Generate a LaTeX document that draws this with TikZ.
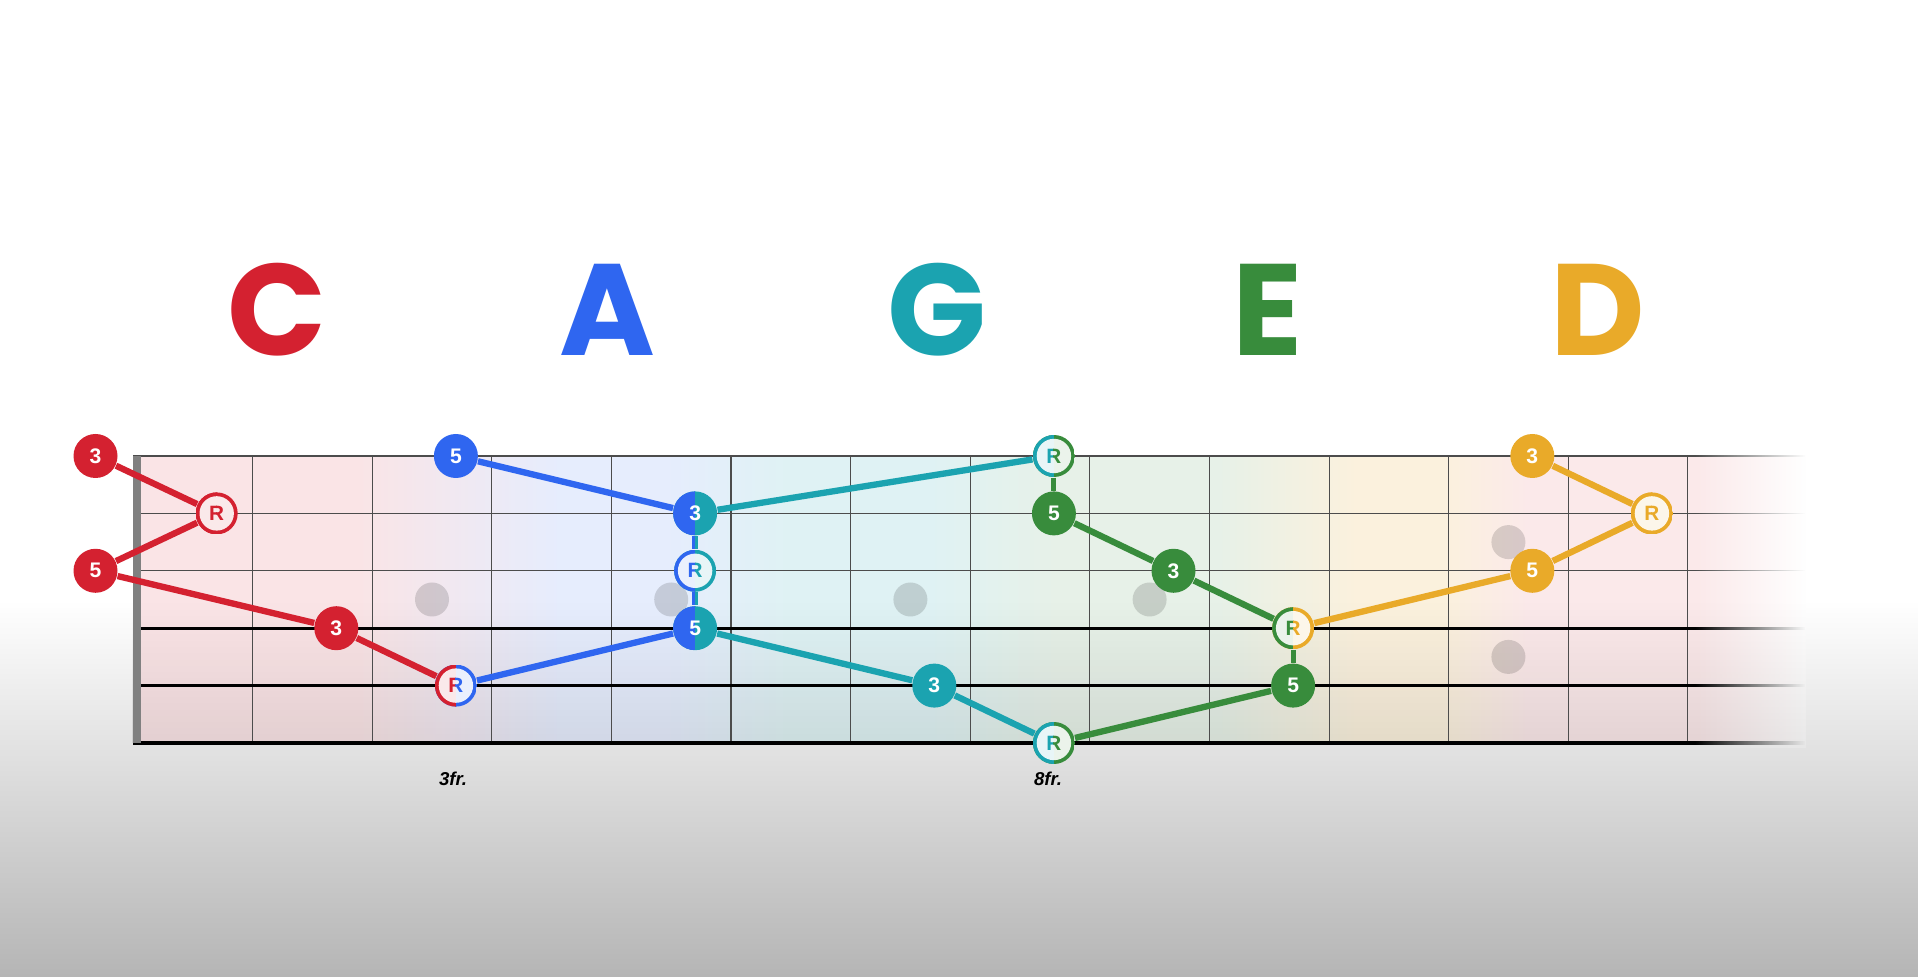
\documentclass[tikz,border=0pt]{standalone}
\usepackage{fontspec}
\setmainfont{Liberation Sans}
\newfontfamily\titlefont{Poppins}
\usetikzlibrary{fadings}
\definecolor{shapeC}{RGB}{212,33,48}
\definecolor{shapeA}{RGB}{47,102,240}
\definecolor{shapeG}{RGB}{27,163,176}
\definecolor{shapeE}{RGB}{56,140,60}
\definecolor{shapeD}{RGB}{233,170,41}

\begin{document}
\begin{tikzpicture}[
  shapename/.style={font=\titlefont\bfseries\fontsize{37}{37}\selectfont,anchor=base,text=#1},
  notedot/.style={circle,fill=#1,text=white,minimum size=0.44cm,inner sep=0pt,
    font=\bfseries\fontsize{6}{6}\selectfont},
  halfdot/.style 2 args={notedot=#2,path picture={
    \fill[#1] (path picture bounding box.south west) rectangle (path picture bounding box.north);}},
  rlabel/.style={inner sep=0pt,font=\bfseries\fontsize{5.9}{5.9}\selectfont},
  rootring/.style 2 args={circle,minimum size=0.42cm,inner sep=0pt,path picture={
    \fill[#2] (path picture bounding box.south west) rectangle (path picture bounding box.north east);
    \fill[#1] (path picture bounding box.south west) rectangle (path picture bounding box.north);
    \fill[white,fill opacity=0.9] (path picture bounding box.center) circle (0.172);
    \begin{scope}
      \clip (path picture bounding box.south west) rectangle (path picture bounding box.north);
      \node[rlabel,text=#1] at (path picture bounding box.center) {R};
    \end{scope}
    \begin{scope}
      \clip (path picture bounding box.south) rectangle (path picture bounding box.north east);
      \node[rlabel,text=#2] at (path picture bounding box.center) {R};
    \end{scope}}},
  shapelink/.style={line width=1.8pt,#1},
  fretlabel/.style={font=\bfseries\itshape\fontsize{5.3}{5.3}\selectfont}]
\useasboundingbox (0,0) rectangle (19.18,9.76);
\fill[white] (0,0) rectangle (19.18,9.76);
\shade[top color=white,middle color=black!11,bottom color=black!29] (0,0) rectangle (19.18,3.76);

% fretboard
\foreach \xa/\xb/\ca/\cb in {1.33/3.6/shapeC!12/shapeC!12, 3.6/5.6/shapeC!12/shapeA!12,
    5.6/6.6/shapeA!12/shapeA!12, 6.6/7.9/shapeA!12/shapeG!14, 7.9/9.3/shapeG!14/shapeG!14,
    9.3/10.6/shapeG!14/shapeE!12, 10.6/12.2/shapeE!12/shapeE!12, 12.2/13.6/shapeE!12/shapeD!16,
    13.6/14.4/shapeD!16/shapeD!16, 14.4/15.3/shapeD!16/shapeC!10, 15.3/18.05/shapeC!10/shapeC!10}
  \shade[left color=\ca,right color=\cb] (\xa,2.33) rectangle (\xb,5.20);
\fill[black,fill opacity=0.09,path fading=north] (1.33,2.33) rectangle (18.05,3.76);
\foreach \ix/\iy in {4.32/3.765, 6.712/3.765, 9.104/3.765, 11.496/3.765, 15.084/4.339, 15.084/3.191}
  \fill[black,fill opacity=0.14] (\ix,\iy) circle (0.17);
\foreach \k in {1,...,13}
  \draw[black!70,line width=0.3pt] ({1.33+1.196*\k},2.33) -- ({1.33+1.196*\k},5.20);
\foreach \sy in {5.20,4.626,4.052}
  \draw[black!70,line width=0.4pt] (1.33,\sy) -- (18.05,\sy);
\foreach \sy in {3.478,2.904}
  \draw[black,line width=0.75pt] (1.33,\sy) -- (18.05,\sy);
\draw[black,line width=1.1pt] (1.33,2.33) -- (18.05,2.33);
\fill[black!50] (1.33,2.33) rectangle (1.41,5.20);
\fill[white,path fading=west] (16.95,3.76) rectangle (18.06,5.35);
\shade[top color=white,bottom color=black!9,path fading=west] (16.95,2.285) rectangle (18.06,3.76);

\node[shapename=shapeC] (tC) at (2.77,6.20) {C};
\node[shapename=shapeA] (tA) at (6.07,6.20) {A};
\node[shapename=shapeG] (tG) at (9.37,6.20) {G};
\node[shapename=shapeE] (tE) at (12.68,6.20) {E};
\node[shapename=shapeD] (tD) at (15.98,6.20) {D};

\node[notedot=shapeC] (c3) at (0.955,5.20) {3};
\node[rootring={shapeC}{shapeC}] (cR1) at (2.167,4.626) {};
\node[notedot=shapeC] (c5) at (0.955,4.052) {5};
\node[notedot=shapeC] (c3b) at (3.363,3.478) {3};
\node[rootring={shapeC}{shapeA}] (cR) at (4.559,2.904) {};
\node[notedot=shapeA] (a5) at (4.559,5.20) {5};
\node[halfdot={shapeA}{shapeG}] (a3) at (6.951,4.626) {3};
\node[rootring={shapeA}{shapeG}] (aR) at (6.951,4.052) {};
\node[halfdot={shapeA}{shapeG}] (a5b) at (6.951,3.478) {5};
\node[rootring={shapeG}{shapeE}] (gR) at (10.539,5.20) {};
\node[notedot=shapeG] (g3) at (9.343,2.904) {3};
\node[rootring={shapeG}{shapeE}] (gR6) at (10.539,2.33) {};
\node[notedot=shapeE] (e5) at (10.539,4.626) {5};
\node[notedot=shapeE] (e3) at (11.735,4.052) {3};
\node[rootring={shapeE}{shapeD}] (eR) at (12.931,3.478) {};
\node[notedot=shapeE] (e5b) at (12.931,2.904) {5};
\node[notedot=shapeD] (d3) at (15.323,5.20) {3};
\node[rootring={shapeD}{shapeD}] (dR) at (16.519,4.626) {};
\node[notedot=shapeD] (d5) at (15.323,4.052) {5};

\draw[shapelink=shapeC] (c3) -- (cR1) -- (c5) -- (c3b) -- (cR);
\draw[shapelink=shapeA] (a5) -- (a3) (a5b) -- (cR);
\draw[line width=0.75pt,shapeA] ([xshift=-0.375pt]a3.south) -- ([xshift=-0.375pt]aR.north)
  ([xshift=-0.375pt]aR.south) -- ([xshift=-0.375pt]a5b.north);
\draw[line width=0.75pt,shapeG] ([xshift=0.375pt]a3.south) -- ([xshift=0.375pt]aR.north)
  ([xshift=0.375pt]aR.south) -- ([xshift=0.375pt]a5b.north);
\draw[shapelink=shapeG] (gR) -- (a3) (a5b) -- (g3) -- (gR6);
\draw[shapelink=shapeE] (e5) -- (e3) -- (eR) (e5b) -- (gR6);
\draw[line width=1.4pt,shapeE] (gR) -- (e5) (eR) -- (e5b);
\draw[shapelink=shapeD] (d3) -- (dR) -- (d5) -- (eR);

\node[fretlabel] (f3) at (4.53,1.97) {3fr.};
\node[fretlabel] (f8) at (10.48,1.97) {8fr.};
\end{tikzpicture}
\end{document}
